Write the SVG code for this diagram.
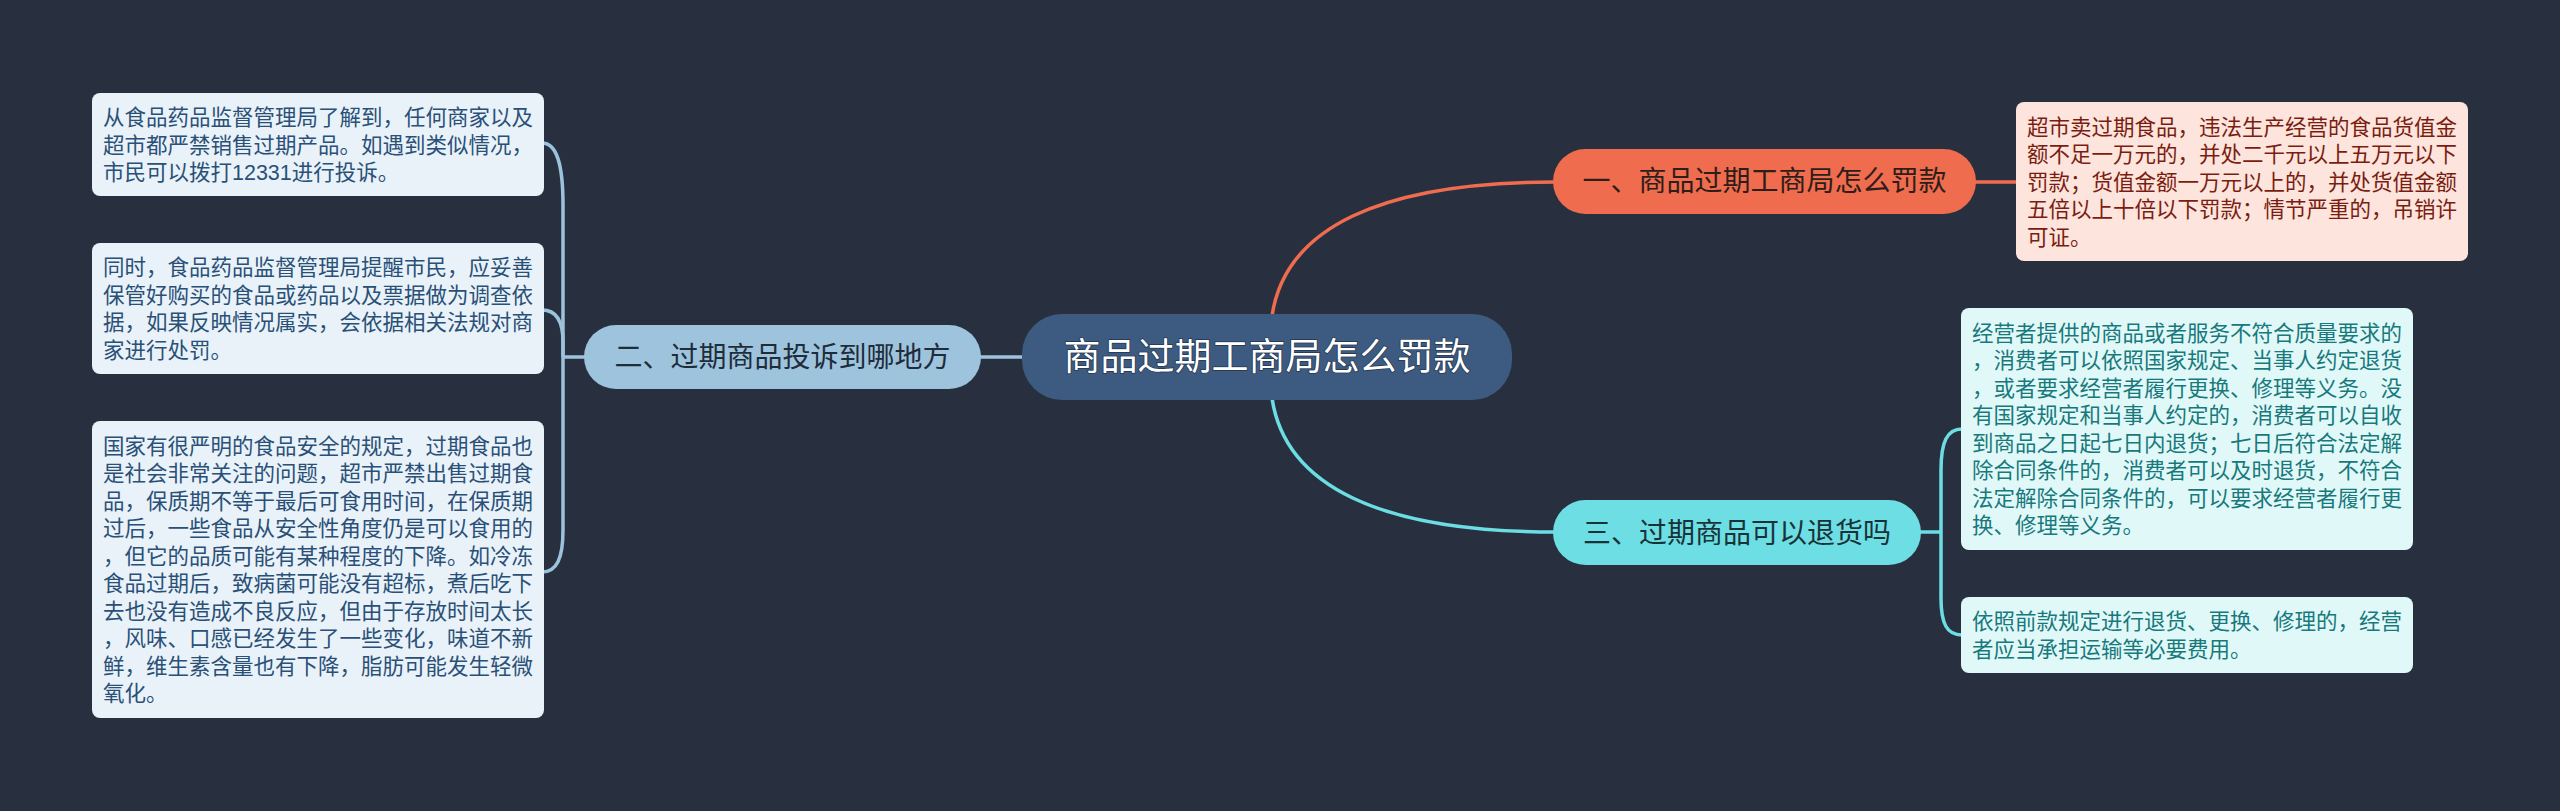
<svg xmlns="http://www.w3.org/2000/svg" width="2560" height="811" viewBox="0 0 2560 811">
<defs>
<style>
text{font-family:"Liberation Sans","Noto Sans CJK SC",sans-serif;}
.leaf{font-size:21.5px;}
.br{font-size:28px;text-anchor:middle;}
.ctr{font-size:37px;text-anchor:middle;fill:#ffffff;}
.c-red{fill:none;stroke:#ef6c4f;stroke-width:3.5;}
.c-blue{fill:none;stroke:#9cc2dc;stroke-width:3.5;}
.c-cyan{fill:none;stroke:#6cdde3;stroke-width:3.5;}
</style>
</defs>
<rect x="0" y="0" width="2560" height="811" fill="#28303f"/>

<g id="connectors">
<path class="c-red" d="M1272,316 C1285,228 1380,182 1555,182"/>
<path class="c-red" d="M1974,182 H2018"/>
<path class="c-cyan" d="M1272,398 C1285,486 1380,532 1555,532"/>
<path class="c-cyan" d="M1919,532 H1941"/>
<path class="c-cyan" d="M1941,532 V470 C1941,442 1947,429 1962,429"/>
<path class="c-cyan" d="M1941,532 V598 C1941,624 1947,635 1962,635"/>
<path class="c-blue" d="M1024,357 H979"/>
<path class="c-blue" d="M586,357 H563"/>
<path class="c-blue" d="M563,357 V205 C563,165 557,143 542,143"/>
<path class="c-blue" d="M563,357 V342 C563,322 557,310 542,310"/>
<path class="c-blue" d="M563,357 V530 C563,558 557,572 542,572"/>
</g>

<g id="center">
<rect x="1022" y="314" width="490" height="86" rx="40" fill="#3d5a80"/>
<text class="ctr" x="1267" y="370" style="paint-order:stroke;stroke:#24364f;stroke-width:1.5px">商品过期工商局怎么罚款</text>
</g>

<g id="branch1">
<rect x="1553" y="149" width="423" height="65" rx="32.5" fill="#ef6c4f"/>
<text class="br" x="1764.5" y="191" fill="#2e1d18">一、商品过期工商局怎么罚款</text>
</g>

<g id="branch2">
<rect x="584" y="325" width="397" height="64" rx="32" fill="#9dc3dd"/>
<text class="br" x="782.5" y="367" fill="#1f2c3a">二、过期商品投诉到哪地方</text>
</g>

<g id="branch3">
<rect x="1553" y="500" width="368" height="65" rx="32.5" fill="#6ddee4"/>
<text class="br" x="1737" y="543" fill="#173338">三、过期商品可以退货吗</text>
</g>

<g id="leaf1">
<rect x="2016" y="102" width="452" height="159" rx="8" fill="#fde4dd"/>
<text class="leaf" fill="#7a1d10" x="2027" y="134.5"><tspan x="2027">超市卖过期食品，违法生产经营的食品货值金</tspan><tspan x="2027" dy="27.5">额不足一万元的，并处二千元以上五万元以下</tspan><tspan x="2027" dy="27.5">罚款；货值金额一万元以上的，并处货值金额</tspan><tspan x="2027" dy="27.5">五倍以上十倍以下罚款；情节严重的，吊销许</tspan><tspan x="2027" dy="27.5">可证。</tspan></text>
</g>

<g id="leaf3a">
<rect x="1961" y="308" width="452" height="242" rx="8" fill="#e1f8f8"/>
<text class="leaf" fill="#17797c" x="1972" y="340.75"><tspan x="1972">经营者提供的商品或者服务不符合质量要求的</tspan><tspan x="1972" dy="27.5">，消费者可以依照国家规定、当事人约定退货</tspan><tspan x="1972" dy="27.5">，或者要求经营者履行更换、修理等义务。没</tspan><tspan x="1972" dy="27.5">有国家规定和当事人约定的，消费者可以自收</tspan><tspan x="1972" dy="27.5">到商品之日起七日内退货；七日后符合法定解</tspan><tspan x="1972" dy="27.5">除合同条件的，消费者可以及时退货，不符合</tspan><tspan x="1972" dy="27.5">法定解除合同条件的，可以要求经营者履行更</tspan><tspan x="1972" dy="27.5">换、修理等义务。</tspan></text>
</g>

<g id="leaf3b">
<rect x="1961" y="597" width="452" height="76" rx="8" fill="#e1f8f8"/>
<text class="leaf" fill="#17797c" x="1972" y="629.25"><tspan x="1972">依照前款规定进行退货、更换、修理的，经营</tspan><tspan x="1972" dy="27.5">者应当承担运输等必要费用。</tspan></text>
</g>

<g id="leaf2a">
<rect x="92" y="93" width="452" height="103" rx="8" fill="#e9f2f9"/>
<text class="leaf" fill="#2a5077" x="103" y="125"><tspan x="103">从食品药品监督管理局了解到，任何商家以及</tspan><tspan x="103" dy="27.5">超市都严禁销售过期产品。如遇到类似情况，</tspan><tspan x="103" dy="27.5">市民可以拨打12331进行投诉。</tspan></text>
</g>

<g id="leaf2b">
<rect x="92" y="243" width="452" height="131" rx="8" fill="#e9f2f9"/>
<text class="leaf" fill="#2a5077" x="103" y="275.25"><tspan x="103">同时，食品药品监督管理局提醒市民，应妥善</tspan><tspan x="103" dy="27.5">保管好购买的食品或药品以及票据做为调查依</tspan><tspan x="103" dy="27.5">据，如果反映情况属实，会依据相关法规对商</tspan><tspan x="103" dy="27.5">家进行处罚。</tspan></text>
</g>

<g id="leaf2c">
<rect x="92" y="421" width="452" height="297" rx="8" fill="#e9f2f9"/>
<text class="leaf" fill="#2a5077" x="103" y="453.75"><tspan x="103">国家有很严明的食品安全的规定，过期食品也</tspan><tspan x="103" dy="27.5">是社会非常关注的问题，超市严禁出售过期食</tspan><tspan x="103" dy="27.5">品，保质期不等于最后可食用时间，在保质期</tspan><tspan x="103" dy="27.5">过后，一些食品从安全性角度仍是可以食用的</tspan><tspan x="103" dy="27.5">，但它的品质可能有某种程度的下降。如冷冻</tspan><tspan x="103" dy="27.5">食品过期后，致病菌可能没有超标，煮后吃下</tspan><tspan x="103" dy="27.5">去也没有造成不良反应，但由于存放时间太长</tspan><tspan x="103" dy="27.5">，风味、口感已经发生了一些变化，味道不新</tspan><tspan x="103" dy="27.5">鲜，维生素含量也有下降，脂肪可能发生轻微</tspan><tspan x="103" dy="27.5">氧化。</tspan></text>
</g>
</svg>
